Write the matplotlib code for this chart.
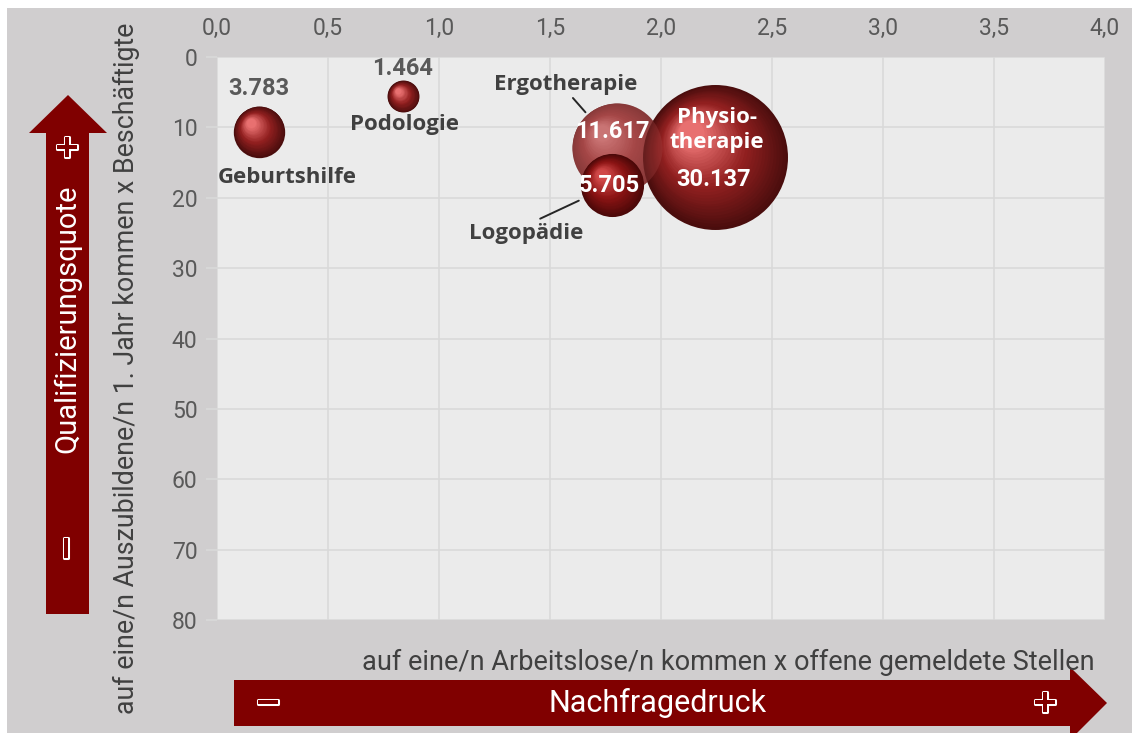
import matplotlib.pyplot as plt
import matplotlib.transforms as mtransforms
import matplotlib.patheffects as pe
from matplotlib.patches import Polygon, Rectangle
from matplotlib.colors import to_rgb
import numpy as np

# data
berufe = ["Geburtshilfe", "Podologie", "Ergotherapie", "Logopädie", "Physiotherapie"]
nachfragedruck = [0.19, 0.84, 1.80, 1.78, 2.245]
qualifizierungsquote = [10.6, 5.6, 12.9, 18.2, 14.2]
beschaeftigte = [3783, 1464, 11617, 5705, 30137]
zahl_labels = ["3.783", "1.464", "11.617", "5.705", "30.137"]
x_ticks = [0.0, 0.5, 1.0, 1.5, 2.0, 2.5, 3.0, 3.5, 4.0]
y_ticks = [0, 10, 20, 30, 40, 50, 60, 70, 80]

W, H = 1132, 733
BG = "#d0cecf"
PLOT_BG = "#ebebeb"
DARKRED = "#800000"
TXT = "#404040"
NUMFONT = ["Liberation Sans Narrow", "DejaVu Sans Condensed", "Roboto"]

fig = plt.figure(figsize=(W / 100, H / 100), dpi=100)
fig.patch.set_facecolor("white")

def px(x, y):
    return (x / W, 1 - y / H)

# grey card behind everything (white strip at top/left)
fig.patches.append(Rectangle(px(7, H), (W - 7) / W, (H - 8) / H,
                             transform=fig.transFigure, facecolor=BG,
                             edgecolor="none", zorder=-10))

ax = fig.add_axes([217 / W, 113 / H, 888 / W, 563 / H])
ax.set_facecolor(PLOT_BG)
ax.set_xlim(0, 4)
ax.set_ylim(80, 0)
ax.xaxis.tick_top()
ax.set_xticks(x_ticks)
ax.set_xticklabels([f"{v:.1f}".replace(".", ",") for v in x_ticks])
ax.set_yticks(y_ticks)
for s in ax.spines.values():
    s.set_visible(False)
ax.grid(True, color="#d9d9d9", linewidth=1.2)
ax.set_axisbelow(True)
ax.tick_params(axis="x", length=0, pad=12, labelsize=16.5, labelcolor="#595959")
ax.tick_params(axis="y", length=8, color="#d9d9d9", width=1.2, pad=6,
               labelsize=16.5, labelcolor="#595959")
for lab in ax.get_xticklabels() + ax.get_yticklabels():
    lab.set_family(["Roboto", "DejaVu Sans"])


def mix(c1, c2, t):
    a, b = np.array(to_rgb(c1)), np.array(to_rgb(c2))
    return tuple(a + (b - a) * t)


def bubble(x, y, size, edge, mid, light, z, n=30):
    r = np.sqrt(size) / 2  # radius in points
    for i in range(n):
        t = i / (n - 1)
        f = 1 - 0.82 * t
        if t < 0.5:
            col = mix(edge, mid, t / 0.5)
        else:
            col = mix(mid, light, (t - 0.5) / 0.5)
        tr = mtransforms.offset_copy(ax.transData, fig=fig,
                                     x=-0.33 * r * t, y=0.33 * r * t, units="points")
        ax.scatter([x], [y], s=(2 * r * f) ** 2, color=[col], transform=tr,
                   linewidths=0, zorder=z)


sizes = [0.3616 * v for v in beschaeftigte]
normal = ("#4a0d0d", "#922020", "#e87070")
pale = ("#7a3535", "#a84b4b", "#e09090")
for i in [0, 1, 2]:
    cols = pale if berufe[i] == "Ergotherapie" else normal
    bubble(nachfragedruck[i], qualifizierungsquote[i], sizes[i], *cols, z=3)
bubble(nachfragedruck[4], qualifizierungsquote[4], sizes[4], *normal, z=4)
# translucent Ergotherapie bubble over Physiotherapie
ax.scatter([nachfragedruck[2]], [qualifizierungsquote[2]], s=sizes[2],
           color="#a04040", alpha=0.35, linewidths=0, zorder=5)
bubble(nachfragedruck[3], qualifizierungsquote[3], sizes[3], "#4a0808", "#8c1414", "#d04848", z=6)

# labels
bold = dict(family=["Open Sans", "DejaVu Sans"], fontweight="bold", fontsize=16,
            color=TXT, ha="center", va="center", zorder=8)
num = dict(family=NUMFONT, fontweight="bold", fontstretch="condensed", fontsize=17,
           ha="center", va="center", zorder=8)
pts = list(zip(nachfragedruck, qualifizierungsquote))

ax.annotate(zahl_labels[0], pts[0], xytext=(0, 31), textcoords="offset points",
            color="#595959", **num)
ax.annotate(berufe[0], pts[0], xytext=(20, -33), textcoords="offset points", **bold)
ax.annotate(zahl_labels[1], pts[1], xytext=(-1, 20), textcoords="offset points",
            color="#595959", **num)
ax.annotate(berufe[1], pts[1], xytext=(1, -20), textcoords="offset points", **bold)
ax.annotate(zahl_labels[2], pts[2], xytext=(-3, 11.5), textcoords="offset points",
            color="white", **num)
ax.annotate(berufe[2], pts[2], xytext=(-36.7, 45.4), textcoords="offset points",
            arrowprops=dict(arrowstyle="-", color="#262626", lw=1.4,
                            shrinkA=0, shrinkB=34, relpos=(0.48, 0.42)),
            **bold)
ax.annotate(zahl_labels[3], pts[3], xytext=(-2, 0), textcoords="offset points",
            color="white", **num)
ax.annotate(berufe[3], pts[3], xytext=(-62, -34.6), textcoords="offset points",
            arrowprops=dict(arrowstyle="-", color="#262626", lw=1.4,
                            shrinkA=2, shrinkB=26.5, relpos=(0.53, 0.95)),
            **bold)
ax.annotate("Physio-\ntherapie", pts[4], xytext=(1, 19.4), textcoords="offset points",
            linespacing=1.2, **{**bold, "color": "white"})
ax.annotate(zahl_labels[4], pts[4], xytext=(-1, -16.6), textcoords="offset points",
            color="white", **num)

# axis titles
fig.text(*px(126, 368), "auf eine/n Auszubildene/n 1. Jahr kommen x Beschäftigte",
         rotation=90, ha="center", va="center", fontsize=19.3, color=TXT,
         family=["Roboto", "DejaVu Sans"])
fig.text(*px(1095, 662), "auf eine/n Arbeitslose/n kommen x offene gemeldete Stellen",
         ha="right", va="center", fontsize=19.5, color=TXT, family=["Roboto", "DejaVu Sans"])

# horizontal arrow
harrow = [px(234, 680), px(1070, 680), px(1070, 667), px(1107, 703),
          px(1070, 740), px(1070, 726), px(234, 726)]
fig.patches.append(Polygon(harrow, closed=True, transform=fig.transFigure,
                           facecolor=DARKRED, edgecolor="none", zorder=1))
fig.text(*px(658, 703), "Nachfragedruck", ha="center", va="center", fontsize=22,
         color="white", family=["Roboto", "DejaVu Sans"])

# vertical arrow
varrow = [px(46, 614), px(46, 133), px(29, 133), px(68, 95), px(107, 133),
          px(89, 133), px(89, 614)]
fig.patches.append(Polygon(varrow, closed=True, transform=fig.transFigure,
                           facecolor=DARKRED, edgecolor="none", zorder=1))
fig.text(*px(67, 319), "Qualifizierungsquote", rotation=90, ha="center", va="center",
         fontsize=21, color="white", family=["Roboto", "DejaVu Sans"])

# hollow plus / minus symbols
outline = [pe.withStroke(linewidth=2.2, foreground="white")]
for (x, y, sym, rot) in [(268, 703, "−", 0), (1045, 703, "+", 0),
                         (67, 148, "+", 0), (67, 548, "−", 90)]:
    fig.text(*px(x, y), sym, ha="center", va="center", fontsize=22, rotation=rot,
             color=DARKRED, fontweight="bold", path_effects=outline,
             family="DejaVu Sans")

fig.savefig("out.png", dpi=100, facecolor=fig.get_facecolor())
